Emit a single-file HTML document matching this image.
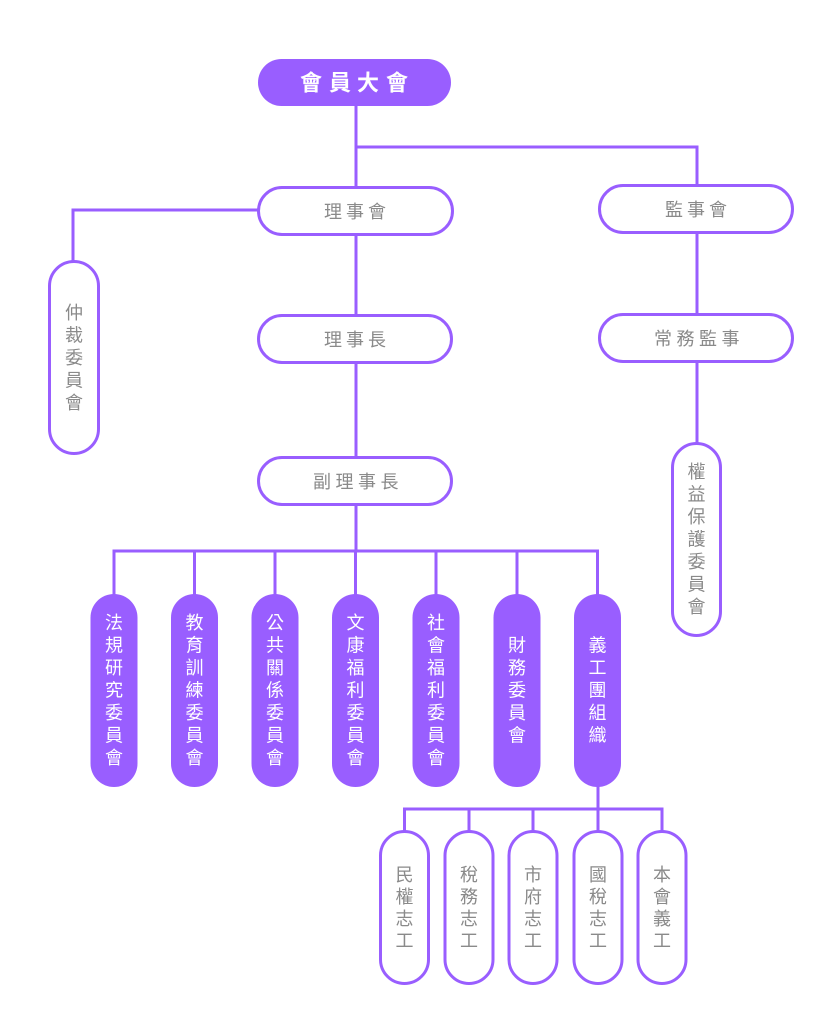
<!DOCTYPE html>
<html>
<head>
<meta charset="utf-8">
<style>
html,body{margin:0;padding:0;background:#fff;}
svg{display:block;}
text{font-family:"Liberation Sans","Noto Sans CJK TC",sans-serif;}
.g{fill:#8a8a8a;font-size:18px;}
.w{fill:#ffffff;font-size:18px;}
.b{fill:#ffffff;font-size:22px;font-weight:bold;}
</style>
</head>
<body>
<svg width="838" height="1024" viewBox="0 0 838 1024" xmlns="http://www.w3.org/2000/svg">
<g stroke="#995eff" stroke-width="3" fill="none">
  <line x1="356" y1="106" x2="356" y2="188"/>
  <polyline points="356,147 697,147 697,186"/>
  <polyline points="258,210 73,210 73,262"/>
  <line x1="356" y1="236" x2="356" y2="316"/>
  <line x1="697" y1="234" x2="697" y2="315"/>
  <line x1="697" y1="363" x2="697" y2="444"/>
  <line x1="356" y1="364" x2="356" y2="458"/>
  <line x1="356" y1="506" x2="356" y2="551"/>
  <line x1="112.5" y1="551" x2="599" y2="551"/>
  <line x1="114" y1="551" x2="114" y2="595"/>
  <line x1="194.5" y1="551" x2="194.5" y2="595"/>
  <line x1="275" y1="551" x2="275" y2="595"/>
  <line x1="355.5" y1="551" x2="355.5" y2="595"/>
  <line x1="436" y1="551" x2="436" y2="595"/>
  <line x1="517" y1="551" x2="517" y2="595"/>
  <line x1="597.5" y1="551" x2="597.5" y2="595"/>
  <line x1="598" y1="786" x2="598" y2="809"/>
  <line x1="403" y1="809" x2="663.5" y2="809"/>
  <line x1="404.5" y1="809" x2="404.5" y2="832"/>
  <line x1="469" y1="809" x2="469" y2="832"/>
  <line x1="533" y1="809" x2="533" y2="832"/>
  <line x1="598" y1="809" x2="598" y2="832"/>
  <line x1="662" y1="809" x2="662" y2="832"/>
  <rect x="258.5" y="187.5" width="194" height="47" rx="23.5" fill="#fff"/>
  <rect x="599.5" y="185.5" width="193" height="47" rx="23.5" fill="#fff"/>
  <rect x="49.5" y="261.5" width="49" height="192" rx="24.5" fill="#fff"/>
  <rect x="258.5" y="315.5" width="193" height="47" rx="23.5" fill="#fff"/>
  <rect x="599.5" y="314.5" width="193" height="47" rx="23.5" fill="#fff"/>
  <rect x="672.5" y="443.5" width="48" height="192" rx="24" fill="#fff"/>
  <rect x="258.5" y="457.5" width="193" height="47" rx="23.5" fill="#fff"/>
  <rect x="380.5" y="831.5" width="48" height="152" rx="24" fill="#fff"/>
  <rect x="445" y="831.5" width="48" height="152" rx="24" fill="#fff"/>
  <rect x="509" y="831.5" width="48" height="152" rx="24" fill="#fff"/>
  <rect x="574" y="831.5" width="48" height="152" rx="24" fill="#fff"/>
  <rect x="638" y="831.5" width="48" height="152" rx="24" fill="#fff"/>
</g>
<g fill="#995eff" stroke="none">
  <rect x="258" y="59" width="193" height="47" rx="23.5"/>
  <rect x="90.5" y="594" width="47" height="193" rx="23.5"/>
  <rect x="171" y="594" width="47" height="193" rx="23.5"/>
  <rect x="251.5" y="594" width="47" height="193" rx="23.5"/>
  <rect x="332" y="594" width="47" height="193" rx="23.5"/>
  <rect x="412.5" y="594" width="47" height="193" rx="23.5"/>
  <rect x="493.5" y="594" width="47" height="193" rx="23.5"/>
  <rect x="574" y="594" width="47" height="193" rx="23.5"/>
</g>

<g text-anchor="middle" dominant-baseline="central">
  <text class="b" x="311" y="83">會</text>
  <text class="b" x="340" y="83">員</text>
  <text class="b" x="368" y="83">大</text>
  <text class="b" x="397" y="83">會</text>
  <text class="g" x="333" y="212">理</text>
  <text class="g" x="355" y="212">事</text>
  <text class="g" x="377" y="212">會</text>
  <text class="g" x="674" y="210">監</text>
  <text class="g" x="696" y="210">事</text>
  <text class="g" x="718" y="210">會</text>
  <text class="g" x="333" y="340">理</text>
  <text class="g" x="355" y="340">事</text>
  <text class="g" x="377" y="340">長</text>
  <text class="g" x="663" y="339">常</text>
  <text class="g" x="685.5" y="339">務</text>
  <text class="g" x="708" y="339">監</text>
  <text class="g" x="730.5" y="339">事</text>
  <text class="g" x="322" y="482">副</text>
  <text class="g" x="344.5" y="482">理</text>
  <text class="g" x="367" y="482">事</text>
  <text class="g" x="389.5" y="482">長</text>
  <text class="g" x="74" y="313">仲</text>
  <text class="g" x="74" y="335.5">裁</text>
  <text class="g" x="74" y="358">委</text>
  <text class="g" x="74" y="380.5">員</text>
  <text class="g" x="74" y="403">會</text>
  <text class="g" x="696.5" y="472">權</text>
  <text class="g" x="696.5" y="494.5">益</text>
  <text class="g" x="696.5" y="517">保</text>
  <text class="g" x="696.5" y="539.5">護</text>
  <text class="g" x="696.5" y="562">委</text>
  <text class="g" x="696.5" y="584.5">員</text>
  <text class="g" x="696.5" y="607">會</text>
  <text class="w" x="114" y="623">法</text>
  <text class="w" x="114" y="645.5">規</text>
  <text class="w" x="114" y="668">研</text>
  <text class="w" x="114" y="690.5">究</text>
  <text class="w" x="114" y="713">委</text>
  <text class="w" x="114" y="735.5">員</text>
  <text class="w" x="114" y="758">會</text>
  <text class="w" x="194.5" y="623">教</text>
  <text class="w" x="194.5" y="645.5">育</text>
  <text class="w" x="194.5" y="668">訓</text>
  <text class="w" x="194.5" y="690.5">練</text>
  <text class="w" x="194.5" y="713">委</text>
  <text class="w" x="194.5" y="735.5">員</text>
  <text class="w" x="194.5" y="758">會</text>
  <text class="w" x="275" y="623">公</text>
  <text class="w" x="275" y="645.5">共</text>
  <text class="w" x="275" y="668">關</text>
  <text class="w" x="275" y="690.5">係</text>
  <text class="w" x="275" y="713">委</text>
  <text class="w" x="275" y="735.5">員</text>
  <text class="w" x="275" y="758">會</text>
  <text class="w" x="355.5" y="623">文</text>
  <text class="w" x="355.5" y="645.5">康</text>
  <text class="w" x="355.5" y="668">福</text>
  <text class="w" x="355.5" y="690.5">利</text>
  <text class="w" x="355.5" y="713">委</text>
  <text class="w" x="355.5" y="735.5">員</text>
  <text class="w" x="355.5" y="758">會</text>
  <text class="w" x="436" y="623">社</text>
  <text class="w" x="436" y="645.5">會</text>
  <text class="w" x="436" y="668">福</text>
  <text class="w" x="436" y="690.5">利</text>
  <text class="w" x="436" y="713">委</text>
  <text class="w" x="436" y="735.5">員</text>
  <text class="w" x="436" y="758">會</text>
  <text class="w" x="517" y="645.5">財</text>
  <text class="w" x="517" y="668">務</text>
  <text class="w" x="517" y="690.5">委</text>
  <text class="w" x="517" y="713">員</text>
  <text class="w" x="517" y="735.5">會</text>
  <text class="w" x="597.5" y="645.5">義</text>
  <text class="w" x="597.5" y="668">工</text>
  <text class="w" x="597.5" y="690.5">團</text>
  <text class="w" x="597.5" y="713">組</text>
  <text class="w" x="597.5" y="735.5">織</text>
  <text class="g" x="404.5" y="875">民</text>
  <text class="g" x="404.5" y="897">權</text>
  <text class="g" x="404.5" y="919">志</text>
  <text class="g" x="404.5" y="941">工</text>
  <text class="g" x="469" y="875">稅</text>
  <text class="g" x="469" y="897">務</text>
  <text class="g" x="469" y="919">志</text>
  <text class="g" x="469" y="941">工</text>
  <text class="g" x="533" y="875">市</text>
  <text class="g" x="533" y="897">府</text>
  <text class="g" x="533" y="919">志</text>
  <text class="g" x="533" y="941">工</text>
  <text class="g" x="598" y="875">國</text>
  <text class="g" x="598" y="897">稅</text>
  <text class="g" x="598" y="919">志</text>
  <text class="g" x="598" y="941">工</text>
  <text class="g" x="662" y="875">本</text>
  <text class="g" x="662" y="897">會</text>
  <text class="g" x="662" y="919">義</text>
  <text class="g" x="662" y="941">工</text>
</g>
</svg>
</body>
</html>
